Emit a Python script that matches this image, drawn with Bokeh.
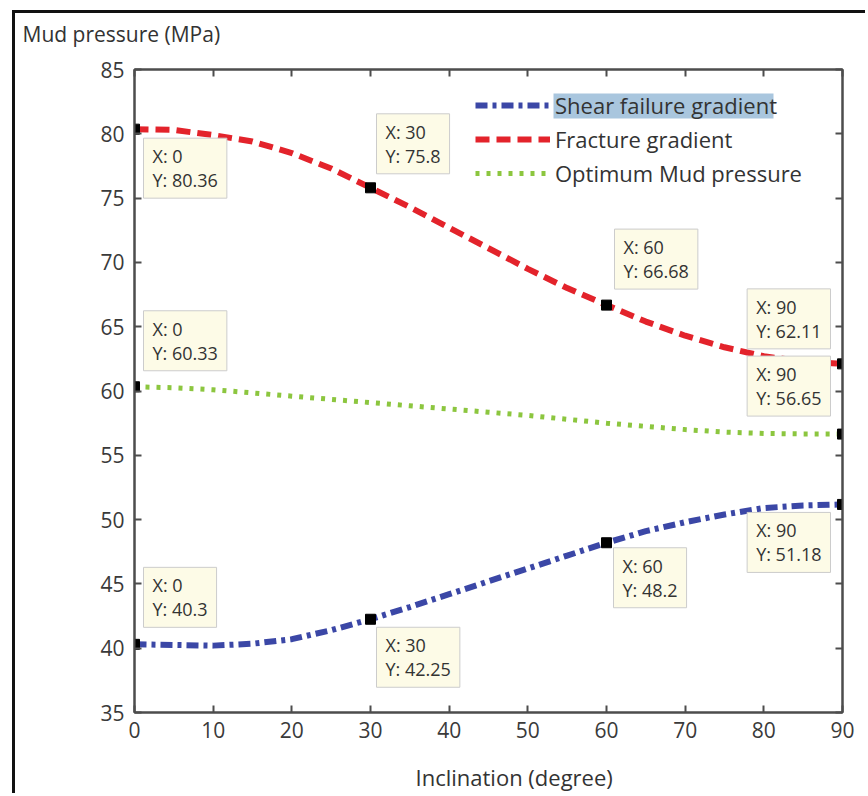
from bokeh.plotting import figure
from bokeh.models import (Range1d, FixedTicker, Label, BoxAnnotation, Title,
                          Legend, LegendItem, LinearAxis)
from bokeh.embed import file_html
from bokeh.resources import INLINE

# ---- data ----
inclination = [0, 5, 10, 15, 20, 25, 30, 35, 40, 45, 50, 55, 60, 65, 70, 75, 80, 85, 90]
shear_failure = [40.3, 40.25, 40.2, 40.35, 40.7, 41.4, 42.25, 43.2, 44.2, 45.2, 46.2,
                 47.2, 48.2, 49.1, 49.8, 50.4, 50.9, 51.1, 51.18]
fracture = [80.36, 80.3, 79.9, 79.4, 78.5, 77.3, 75.8, 74.3, 72.7, 71.1, 69.5,
            68.0, 66.68, 65.4, 64.3, 63.4, 62.7, 62.3, 62.11]
optimum = [60.33, 60.25, 60.1, 59.85, 59.6, 59.35, 59.1, 58.85, 58.6, 58.35, 58.1,
           57.8, 57.5, 57.25, 57.0, 56.8, 56.7, 56.66, 56.65]

tip_x = [0, 30, 60, 90, 90, 0, 0, 30, 60, 90]
tip_y = [80.36, 75.8, 66.68, 62.11, 56.65, 60.33, 40.3, 42.25, 48.2, 51.18]
# data-tip box placement (style): anchor, pixel dx, pixel dy (down positive)
tip_anchor = ["top_left", "top_left", "top_left", "top_right", "top_right",
              "top_left", "top_left", "top_left", "top_left", "top_right"]
tip_dx = [9, 6, 8, -12, -12, 9, 9, 6, 7, -12]
tip_dy = [9, -74, -76, -75, -78, -76, -77, 8, 5, 8]

x_ticks = [0, 10, 20, 30, 40, 50, 60, 70, 80, 90]
y_ticks = [35, 40, 45, 50, 55, 60, 65, 70, 75, 80, 85]

series_labels = ["Shear failure gradient", "Fracture gradient", "Optimum Mud pressure"]
y_title = "Mud pressure (MPa)"
x_title = "Inclination (degree)"

FONT = "Open Sans"
TXT = "#333333"
AX = "#4d4d4d"

p = figure(width=853, height=783, x_range=Range1d(x_ticks[0], x_ticks[-1]),
           y_range=Range1d(y_ticks[0], y_ticks[-1]),
           output_backend="svg", toolbar_location=None,
           min_border_left=119, min_border_right=26, min_border_top=56, min_border_bottom=84)
p.styles = {"border-left": "3px solid #111111", "border-top": "3px solid #111111",
            "margin-left": "12px", "margin-top": "10px"}
p.xgrid.visible = False
p.ygrid.visible = False
p.outline_line_color = AX
p.outline_line_width = 2
p.background_fill_color = "white"
p.border_fill_color = "white"

bottom_ax = p.below[0]
left_ax = p.left[0]
top_ax = LinearAxis()
right_ax = LinearAxis()
p.add_layout(top_ax, "above")
p.add_layout(right_ax, "right")

for ax, ticks in ((bottom_ax, x_ticks), (left_ax, y_ticks),
                  (top_ax, x_ticks), (right_ax, y_ticks)):
    ax.ticker = FixedTicker(ticks=ticks)
    ax.axis_line_color = AX
    ax.axis_line_width = 2
    ax.major_tick_line_color = AX
    ax.major_tick_line_width = 2
    ax.major_tick_in = 7
    ax.major_tick_out = 0
    ax.minor_tick_line_color = None
    ax.major_label_text_font = FONT
    ax.major_label_text_color = "#3a3a3a"
    ax.major_label_text_font_size = "21px"
bottom_ax.major_label_standoff = 9
left_ax.major_label_standoff = 10
for ax in (top_ax, right_ax):
    ax.major_label_text_color = None
    ax.major_label_text_font_size = "1px"
    ax.major_label_standoff = 0

# highlight behind the first legend entry
p.add_layout(BoxAnnotation(left=419, right=639, top=619, bottom=594,
                           left_units="screen", right_units="screen",
                           top_units="screen", bottom_units="screen",
                           fill_color="#a9c6de", fill_alpha=1, line_color=None,
                           level="underlay"))

r_shear = p.line(inclination, shear_failure, line_color="#3b47a6", line_width=6,
                 line_dash="12 5 4 5")
r_frac = p.line(inclination, fracture, line_color="#e3232b", line_width=6,
                line_dash="14 7")
r_opt = p.line(inclination, optimum, line_color="#8cc63f", line_width=5,
               line_dash="4 7")

p.scatter(tip_x, tip_y, marker="square", size=10, fill_color="black", line_color="black")

legend = Legend(items=[LegendItem(label=series_labels[0], renderers=[r_shear]),
                       LegendItem(label=series_labels[1], renderers=[r_frac]),
                       LegendItem(label=series_labels[2], renderers=[r_opt])],
                location=(341, 524), border_line_color=None, background_fill_alpha=0,
                padding=0, margin=0, glyph_width=75, glyph_height=24, label_height=24,
                label_standoff=5, spacing=4, label_text_font=FONT,
                label_text_font_size="22px", label_text_color=TXT)
p.add_layout(legend)

for x, y, anc, dx, dy in zip(tip_x, tip_y, tip_anchor, tip_dx, tip_dy):
    p.add_layout(Label(x=x, y=y, x_offset=dx, y_offset=-dy, anchor=anc,
                       text=f"X: {x:g}\nY: {y:g}", text_font=FONT,
                       text_font_size="18px", text_color=TXT, text_align="left",
                       text_line_height=1.0,
                       background_fill_color="#fdfbe7", border_line_color="#cccccc",
                       border_line_width=1, padding=(9, 6)))

p.title = Title(text=y_title, align="left", offset=-112, text_font=FONT,
                text_font_size="21px", text_font_style="normal", text_color=TXT,
                vertical_align="bottom", standoff=0, padding=(0, 0, 0, 22))
p.add_layout(Title(text=x_title, align="left", offset=281, text_font=FONT,
                   text_font_size="22px", text_font_style="normal", text_color=TXT,
                   vertical_align="bottom", standoff=0, padding=(0, 0, 19, 0)), "below")

open("out.html", "w").write(file_html(p, INLINE))
